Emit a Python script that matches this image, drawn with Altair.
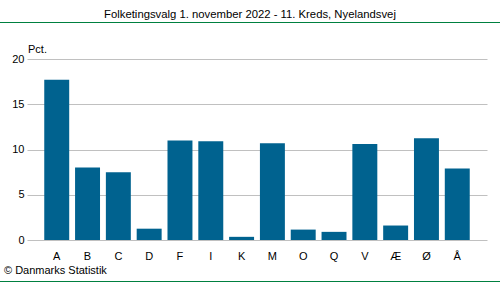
import altair as alt
import pandas as pd

parties = ["A", "B", "C", "D", "F", "I", "K", "M", "O", "Q", "V", "Æ", "Ø", "Å"]
pct = [17.7, 8.0, 7.5, 1.25, 11.0, 10.9, 0.35, 10.7, 1.15, 0.9, 10.6, 1.6, 11.25, 7.9]

title_text = "Folketingsvalg 1. november 2022 - 11. Kreds, Nyelandsvej"
unit_text = "Pct."
footer_text = "© Danmarks Statistik"

df = pd.DataFrame({"parti": parties, "pct": pct})
FONT = "Liberation Sans"
FS = 11
PL, PT = 27, 59

bars = alt.Chart(df).mark_bar(color="#00628f").encode(
    x=alt.X("parti:N", sort=parties, title=None,
            scale=alt.Scale(paddingInner=0.19, paddingOuter=0.56),
            axis=alt.Axis(labelAngle=0, ticks=False, domain=False, labelPadding=10,
                          labelFont=FONT, labelFontSize=FS, labelColor="#000000")),
    y=alt.Y("pct:Q", title=None,
            scale=alt.Scale(domain=[0, 20], nice=False),
            axis=alt.Axis(values=[0, 5, 10, 15, 20], ticks=False, domain=False,
                          labelPadding=3, labelFont=FONT, labelFontSize=FS,
                          labelColor="#000000", gridColor="#c0c0c0", grid=True)),
)

def txt(s, x, y, align="left", size=FS):
    return alt.Chart(pd.DataFrame({"t": [s]})).mark_text(
        font=FONT, fontSize=size, color="#000000", align=align, baseline="middle"
    ).encode(text="t:N", x=alt.value(x - PL), y=alt.value(y - PT))

def hline(y):
    return alt.Chart(pd.DataFrame({"a": [0]})).mark_rule(color="#008040", strokeWidth=1).encode(
        x=alt.value(-PL), x2=alt.value(500 - PL), y=alt.value(y - PT))

chart = alt.layer(
    bars,
    txt(title_text, 250, 15, "center", 11.3),
    txt(unit_text, 28, 50),
    txt(footer_text, 4, 271),
    hline(22.5),
    hline(281.5),
).properties(
    width=460, height=181,
    autosize=alt.AutoSizeParams(type="none"),
    padding={"left": PL, "top": PT, "right": 13, "bottom": 42},
).configure_view(stroke=None)

chart.save("out.html", embed_options={"renderer": "svg", "actions": False})
